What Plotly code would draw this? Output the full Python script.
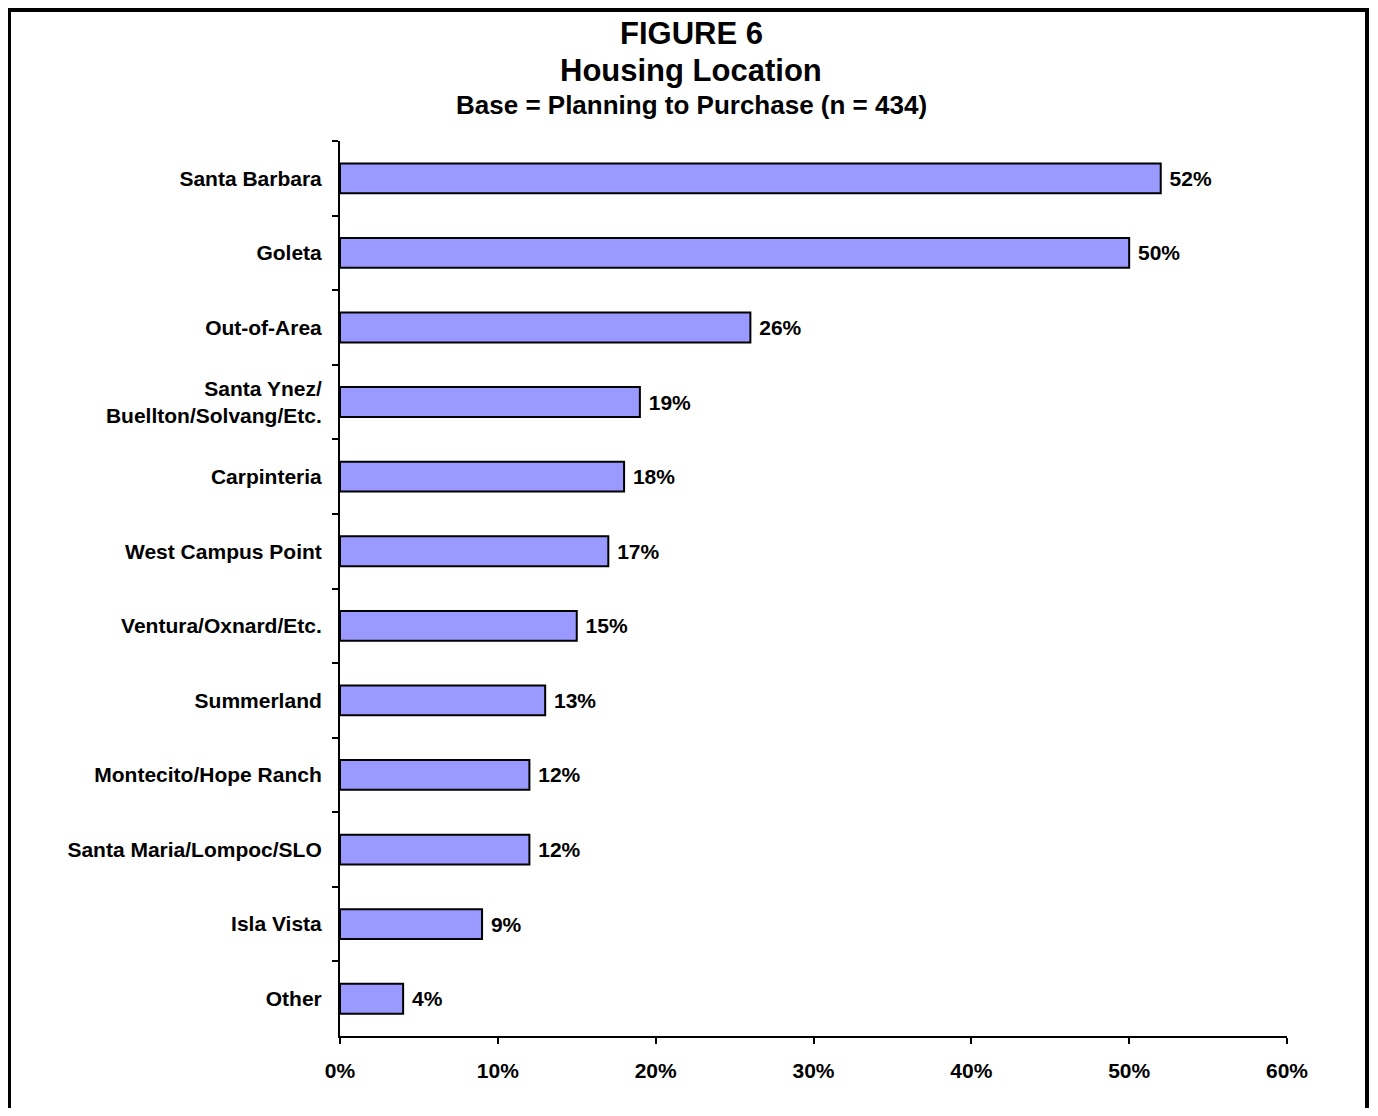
import plotly.graph_objects as go

categories = ["Santa Barbara", "Goleta", "Out-of-Area", "Santa Ynez/<br>Buellton/Solvang/Etc.",
              "Carpinteria", "West Campus Point", "Ventura/Oxnard/Etc.", "Summerland",
              "Montecito/Hope Ranch", "Santa Maria/Lompoc/SLO", "Isla Vista", "Other"]
values = [52, 50, 26, 19, 18, 17, 15, 13, 12, 12, 9, 4]
x_ticks = [0, 10, 20, 30, 40, 50, 60]
x_tick_labels = ["0%", "10%", "20%", "30%", "40%", "50%", "60%"]

FONT = "Liberation Sans, Arial, sans-serif"

# page is offset by 8px body margin; work in page pixels, convert to figure pixels
OFF = 8
W, H = 1378 - 2 * OFF, 1116 - 2 * OFF
PL, PR, PT, PB = 340, 1287, 141, 1036  # plot area in page px
L, R, T, B = PL - OFF, W - (PR - OFF), PT - OFF, H - (PB - OFF)
pw, ph = W - L - R, H - T - B


def px_x(p):
    return (p - OFF - L) / pw


def px_y(p):
    return (H - B - (p - OFF)) / ph


fig = go.Figure()
fig.add_trace(go.Bar(
    y=categories, x=values, orientation="h",
    marker=dict(color="#9999FF", line=dict(color="black", width=2)),
    width=0.4,
    text=[f"\u00a0{v}%" for v in values], textposition="outside",
    textfont=dict(family=FONT, size=21, color="black", weight="bold"),
    cliponaxis=False,
))

fig.update_layout(
    width=W, height=H,
    margin=dict(l=L, r=R, t=T, b=B),
    plot_bgcolor="white", paper_bgcolor="white",
    showlegend=False,
    font=dict(family=FONT, color="black"),
    xaxis=dict(range=[0, 60], tickvals=x_ticks, ticktext=x_tick_labels,
               showgrid=False, zeroline=False, showline=True, linecolor="black", linewidth=2,
               ticks="outside", ticklen=6, tickwidth=2, tickcolor="black",
               tickfont=dict(family=FONT, size=21, color="black", weight="bold"),
               ticklabelstandoff=9),
    yaxis=dict(autorange="reversed", showgrid=False, zeroline=False, showline=True,
               linecolor="black", linewidth=2, ticks="outside", ticklen=6, tickwidth=2,
               tickcolor="black", tickson="boundaries",
               tickfont=dict(family=FONT, size=21, color="black", weight="bold"),
               ticklabelstandoff=12),
    annotations=[
        dict(text="<b>FIGURE 6</b>", x=px_x(691), y=px_y(34), xref="paper", yref="paper",
             xanchor="center", yanchor="middle", showarrow=False,
             font=dict(family=FONT, size=31, color="black")),
        dict(text="<b>Housing Location</b>", x=px_x(691), y=px_y(71), xref="paper", yref="paper",
             xanchor="center", yanchor="middle", showarrow=False,
             font=dict(family=FONT, size=31, color="black")),
        dict(text="<b>Base = Planning to Purchase (n = 434)</b>", x=px_x(691), y=px_y(105),
             xref="paper", yref="paper", xanchor="center", yanchor="middle", showarrow=False,
             font=dict(family=FONT, size=26, color="black")),
    ],
    shapes=[dict(type="rect", xref="paper", yref="paper",
                 x0=px_x(9), x1=px_x(1367), y0=px_y(1130), y1=px_y(10),
                 line=dict(color="black", width=4), fillcolor="rgba(0,0,0,0)", layer="above")],
)

fig.write_html("out.html")
